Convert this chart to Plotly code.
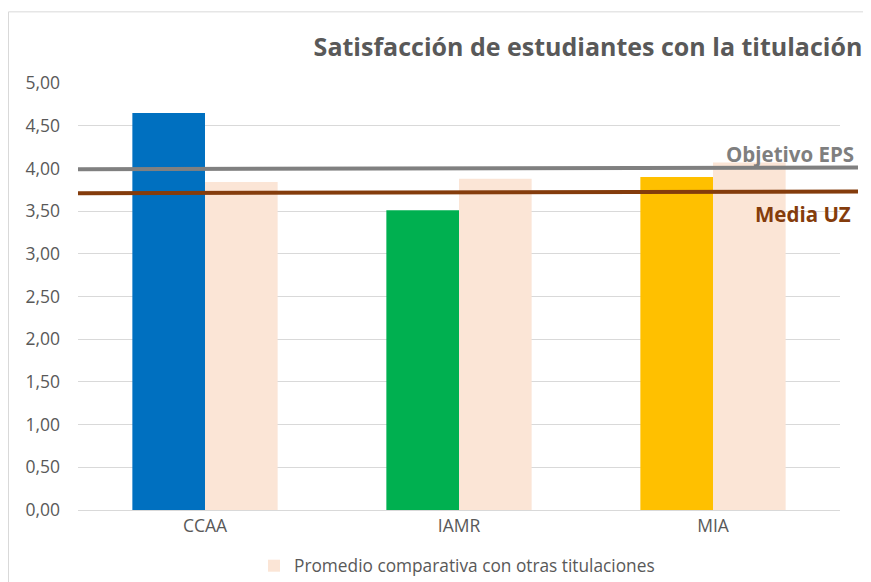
import plotly.graph_objects as go

categories = ["CCAA", "IAMR", "MIA"]
satisfaccion = [4.65, 3.51, 3.90]
promedio = [3.84, 3.88, 4.07]
objetivo_eps = [3.99, 4.01]   # left end, right end
media_uz = [3.71, 3.73]       # left end, right end
tick_vals = [0, 0.5, 1, 1.5, 2, 2.5, 3, 3.5, 4, 4.5, 5]
tick_text = ["0,00", "0,50", "1,00", "1,50", "2,00", "2,50", "3,00", "3,50", "4,00", "4,50", "5,00"]

bar_colors = ["#0070C0", "#00B050", "#FFC000"]
FONT = "'Open Sans', 'Noto Sans', sans-serif"

fig = go.Figure()
fig.add_trace(go.Bar(x=categories, y=satisfaccion, marker=dict(color=bar_colors, line=dict(width=0)),
                     name="Satisfacción", showlegend=False))
fig.add_trace(go.Bar(x=categories, y=promedio, marker=dict(color="#FBE5D6", line=dict(width=0)),
                     name="Promedio comparativa con otras titulaciones"))

# page offset (browser body margin)
O = 8
# plot area in reference pixels: x 78..840, y 82.7..510
L, R, T, B = 78 - O, 840 - O, 82.7 - O, 510 - O
W, H = R - L, B - T
def px(x): return (x - O - L) / W
def py(y): return (B - (y - O)) / H

line_end = px(858)
fig.add_shape(type="line", xref="paper", yref="y", x0=0, x1=line_end,
              y0=objetivo_eps[0], y1=objetivo_eps[1], line=dict(color="#808080", width=4), layer="above")
fig.add_shape(type="line", xref="paper", yref="y", x0=0, x1=line_end,
              y0=media_uz[0], y1=media_uz[1], line=dict(color="#843C0C", width=4), layer="above")

fig.add_annotation(text="<b>Objetivo EPS</b>", xref="paper", yref="paper", x=px(856), y=py(154),
                   xanchor="right", yanchor="middle", showarrow=False,
                   font=dict(family=FONT, size=20.5, color="#7F7F7F"))
fig.add_annotation(text="<b>Media UZ</b>", xref="paper", yref="paper", x=px(853), y=py(214),
                   xanchor="right", yanchor="middle", showarrow=False,
                   font=dict(family=FONT, size=20.5, color="#843C0C"))

# chart border
fig.add_shape(type="rect", xref="paper", yref="paper", x0=px(8.5), y0=py(600), x1=px(890), y1=py(11.5),
              line=dict(color="#D9D9D9", width=1), fillcolor="rgba(0,0,0,0)", layer="below")

fig.update_layout(
    width=871, height=582,
    margin=dict(l=L, r=871 - R, t=T, b=582 - B, autoexpand=False),
    paper_bgcolor="white", plot_bgcolor="white",
    barmode="group", bargap=0.428, bargroupgap=0,
    font=dict(family=FONT, size=17.5, color="#595959"),
    title=dict(text="<b>Satisfacción de estudiantes con la titulación</b>", x=(588 - O) / 871, xanchor="center",
               y=1 - (47 - O) / 582, yanchor="middle", xref="container", yref="container",
               font=dict(family=FONT, size=25, color="#595959")),
    xaxis=dict(showgrid=False, showline=True, linecolor="#D9D9D9", linewidth=1, ticks="",
               tickfont=dict(size=17.5, color="#595959")),
    yaxis=dict(range=[0, 5], tickvals=tick_vals, ticktext=tick_text, showgrid=True, gridcolor="#D9D9D9",
               gridwidth=1, zeroline=False, showline=False, ticks="", ticklabelstandoff=17,
               tickfont=dict(size=17.5, color="#595959")),
    legend=dict(orientation="h", x=px(457), xanchor="center", y=py(566), yanchor="middle",
                font=dict(size=17.3, color="#595959"), bgcolor="rgba(0,0,0,0)", itemwidth=30),
)

fig.write_html("out.html")
